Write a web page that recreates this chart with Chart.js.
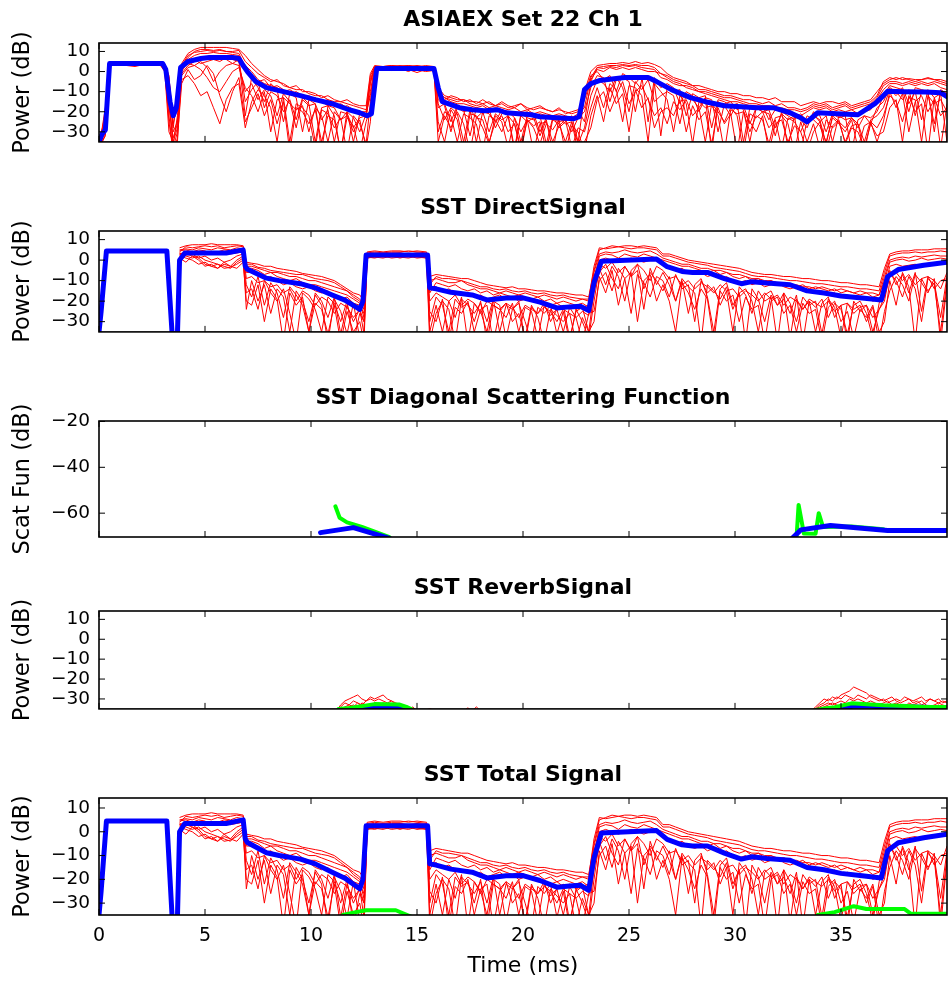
<!DOCTYPE html>
<html>
<head>
<meta charset="utf-8">
<script src="https://cdn.jsdelivr.net/npm/chart.js@4"></script>
<style>
  body { margin: 0; background: #fff; overflow: hidden; }
  canvas { position: absolute; left: 0; }
</style>
</head>
<body>
<canvas id="c1" width="948" height="154" style="top:8px"></canvas>
<canvas id="c2" width="948" height="156" style="top:196px"></canvas>
<canvas id="c3" width="948" height="181" style="top:386px"></canvas>
<canvas id="c4" width="948" height="153" style="top:576px"></canvas>
<canvas id="c5" width="948" height="223" style="top:763px"></canvas>
<script>
// tick labels
const xTicks = [0, 5, 10, 15, 20, 25, 30, 35];
const powerTicks = [-30, -20, -10, 0, 10];
const scatTicks = [-60, -40, -20];

// ---- ASIAEX measured (panel 1) ----
const tMeas = [
  0, 0.15, 0.3, 0.5, 0.9, 1.3, 1.7, 2.1, 2.5, 2.9,
  3.1, 3.3, 3.5, 3.7, 3.9, 4.2, 4.5, 4.8, 5.1, 5.4,
  5.7, 6.0, 6.3, 6.6, 6.9, 7.2, 7.5, 7.8, 8.1, 8.4,
  8.7, 9.0, 9.3, 9.6, 9.9, 10.2, 10.5, 10.8, 11.1, 11.4,
  11.7, 12.0, 12.3, 12.6, 12.8, 13.0, 13.4, 13.8, 14.2, 14.6,
  15.0, 15.4, 15.8, 16.0, 16.3, 16.6, 16.9, 17.2, 17.5, 17.8,
  18.1, 18.4, 18.7, 19.0, 19.3, 19.6, 19.9, 20.2, 20.5, 20.8,
  21.1, 21.4, 21.7, 22.0, 22.3, 22.6, 22.9, 23.2, 23.5, 23.8,
  24.1, 24.4, 24.7, 25.0, 25.3, 25.6, 25.9, 26.2, 26.5, 26.8,
  27.1, 27.4, 27.7, 28.0, 28.3, 28.6, 28.9, 29.2, 29.5, 29.8,
  30.1, 30.4, 30.7, 31.0, 31.3, 31.6, 31.9, 32.2, 32.5, 32.8,
  33.1, 33.4, 33.7, 34.0, 34.3, 34.6, 34.9, 35.2, 35.5, 35.8,
  36.1, 36.4, 36.7, 37.0, 37.3, 37.6, 37.9, 38.2, 38.5, 38.8,
  39.1, 39.4, 39.7, 40.0
];
const measRun1 = [
  -33, -29, -20,
  4.5, 4, 4.5, 4, 4.5, 4, 4.5,
  3, -8, -28, -12, 4,
  9, 11, 12, 12, 12, 12, 12, 11.5, 11,
  8, 4, 1, -2, -4, -5, -6, -8, -9, -9, -11, -12, -12, -14, -15, -15, -16, -17, -18, -19,
  -6,
  2.5, 2.5, 3, 2.5, 3, 2.5, 2.5, 2,
  -8, -12, -13, -14, -14, -15, -15, -16, -15, -17, -16, -18, -17, -16, -18, -19, -18, -19, -20, -19, -20, -21, -20,
  -10, 0,
  3, 3.5, 4, 4, 4.5, 4, 5, 4, 4.5, 3.5, 2,
  -1, -3, -4, -5, -7, -7, -8, -9, -10, -10, -11, -11, -12, -12, -13, -13, -14, -13, -15, -15, -15, -17, -16,
  -15, -16, -15, -15, -16, -15, -17, -16, -15, -14, -10,
  -6,
  -4, -3, -4, -3.5, -4, -4, -3.5, -4, -5, -6
];
const measRun2 = [
  -35, -34, -25,
  3, 3.5, 3, 2.5, 3.5, 3, 3,
  1, -25, -40, -35, 0,
  5, 6, 4, 5, 6, 5, 7, 6, 5,
  -22, -3, -8, -15, -6, -9, -25, -11, -13, -30, -14, -16, -40, -17, -18, -24, -20, -35, -21, -23,
  -5,
  1.5, 2, 1.5, 2, 1.5, 2, 1.5, 1,
  -14, -17, -30, -18, -20, -19, -35, -20, -21, -25, -19, -22, -40, -21, -23, -24, -22, -36, -23, -25, -24, -30, -23,
  -20, -8,
  -2, -3, -15, -4, -3, -5, -20, -4, -3, -6, -32,
  -8, -10, -9, -22, -11, -13, -12, -28, -14, -15, -17, -16, -35, -18, -19, -17, -24, -19, -20, -38, -22, -24, -28,
  -20, -22, -30, -21, -23, -22, -40, -24, -22, -23, -20,
  -12,
  -7, -8, -9, -20, -8, -9, -10, -30, -9, -11
];
const measRun3 = [
  -36, -33, -30,
  3.5, 4, 3.5, 4, 3, 4, 3.5,
  2, -15, -36, -22, -2,
  2, 3, 1, -3, -8, -10, -5, 0, 2,
  -8, -12, -20, -10, -30, -14, -13, -35, -16, -18, -22, -38, -19, -21, -28, -23, -40, -22, -26, -36,
  -15,
  1, 1.5, 1, 0.5, 1, -0.5, 1, 0.5,
  -25, -35, -19, -24, -40, -21, -22, -28, -36, -22, -25, -38, -23, -30, -24, -40, -26, -25, -35, -27, -24, -38, -28,
  -30, -18,
  -8, -18, -6, -9, -25, -7, -8, -12, -35, -6, -10,
  -14, -30, -12, -16, -36, -15, -18, -17, -22, -40, -19, -21, -20, -30, -22, -24, -36, -23, -22, -26, -40, -25, -35,
  -26, -38, -24, -28, -25, -35, -27, -26, -40, -25, -28,
  -22,
  -12, -15, -25, -13, -14, -35, -12, -16, -14, -20
];
const measRun4 = [
  -35, -32, -27,
  4, 3.5, 4, 3.5, 4, 3.5, 4,
  3.5, -5, -22, -20, 1,
  6, 8, 9, 9, 9.5, 9, 9, 8.5, 8,
  3, 0, -4, -6, -7, -8, -10, -9, -11, -13, -12, -14, -15, -14, -17, -16, -18, -19, -20, -20,
  -2,
  2, 2.5, 2, 2.5, 2, 2.5, 2, 1.5,
  -10, -13, -15, -16, -16, -17, -18, -17, -19, -18, -19, -20, -20, -21, -20, -22, -21, -22, -23, -22, -23, -24, -22,
  -14, -4,
  1, 0, 2, 1, 2, 1, 2, 1, 0, 0, -1,
  -3, -5, -6, -8, -9, -10, -11, -12, -13, -14, -15, -15, -16, -17, -17, -18, -18, -19, -19, -20, -21, -22, -20,
  -18, -19, -18, -20, -19, -20, -19, -21, -20, -19, -14,
  -9,
  -6, -6, -7, -6, -7, -6, -7, -6, -8, -9
];
const measRun5 = [
  -34, -31, -26,
  3, 4.5, 3, 4.5, 3.5, 4.5, 3,
  0, -30, -35, -28, -4,
  -2, -6, -12, -10, -18, -26, -14, -8, -6,
  -28, -15, -9, -12, -18, -35, -13, -16, -19, -17, -30, -18, -22, -35, -20, -24, -22, -30, -24, -38,
  -25,
  2, 1, 2, 1.5, 0, 2, 1.5, 1,
  -30, -20, -22, -35, -21, -23, -26, -40, -22, -24, -30, -22, -26, -38, -24, -27, -25, -40, -24, -26, -35, -25, -40,
  -35, -28,
  -14, -10, -20, -12, -5, -16, -10, -7, -14, -22, -18,
  -26, -15, -19, -14, -22, -18, -35, -16, -20, -25, -18, -22, -40, -21, -23, -20, -28, -24, -38, -23, -25, -30, -22,
  -24, -27, -35, -23, -26, -30, -24, -38, -27, -25, -35,
  -25,
  -10, -18, -11, -30, -15, -12, -20, -14, -38, -16
];
const measRun6 = [
  -35, -35, -32,
  5, 4, 4.5, 4, 4.5, 5, 4,
  4, -2, -30, -25, 3,
  7, 10, 11, 11, 10.5, 11, 10, 10, 10.5,
  5, 2, -1, -3, -5, -4, -7, -8, -7, -10, -10, -11, -13, -12, -14, -15, -14, -16, -17, -17,
  -1,
  3, 2.5, 3, 2.5, 3, 2, 3, 2.5,
  -12, -14, -12, -13, -15, -14, -16, -14, -16, -17, -15, -17, -18, -16, -19, -18, -17, -19, -20, -18, -21, -20, -19,
  -25, -5,
  2, 2.5, 3, 3, 3.5, 3, 3.5, 3, 3, 2, -1,
  -2, -4, -5, -6, -7, -9, -9, -10, -11, -12, -12, -13, -14, -14, -15, -16, -15, -17, -16, -18, -18, -19, -18,
  -16, -17, -16, -18, -17, -16, -18, -17, -16, -15, -12,
  -5,
  -3, -4, -3, -4, -5, -4, -3, -4, -4, -5
];
const measRun7 = [
  -36, -30, -24,
  4, 3, 4, 3, 4, 3.5, 4.5,
  2.5, -12, -38, -30, 2,
  4, 3, 5, 2, -5, 0, 3, 4, 3,
  -10, -6, -14, -9, -12, -22, -11, -15, -28, -14, -17, -16, -24, -19, -35, -20, -21, -28, -23, -22,
  -10,
  2.5, 1.5, 2.5, 2, 2.5, 1.5, 2.5, 2,
  -18, -16, -25, -17, -19, -32, -18, -21, -19, -28, -21, -20, -23, -35, -22, -21, -30, -23, -22, -28, -25, -22, -35,
  -12, -2,
  0, -4, -2, -10, -1, -3, -6, -2, -25, -3, -8,
  -6, -8, -16, -10, -12, -20, -13, -14, -30, -16, -15, -19, -17, -26, -18, -20, -21, -32, -20, -22, -24, -21, -25,
  -21, -25, -22, -35, -22, -24, -23, -28, -22, -26, -18,
  -15,
  -8, -10, -14, -9, -22, -10, -11, -26, -10, -12
];
const measRun8 = [
  -35, -33, -28,
  3.5, 4.5, 3.5, 3, 4, 4.5, 3.5,
  1.5, -18, -33, -26, -1,
  3, 5, 7, 6, 8, 7, 6, 4, 6,
  -15, -9, -5, -18, -10, -12, -20, -14, -24, -13, -16, -35, -18, -17, -22, -40, -20, -23, -30, -21,
  -12,
  1.5, 2, 2.5, 1, 2, 1.5, 2, 1.5,
  -16, -24, -18, -21, -35, -19, -23, -20, -30, -21, -24, -22, -38, -22, -25, -23, -32, -24, -40, -23, -26, -25, -36,
  -28, -12,
  -4, -6, -10, -3, -8, -20, -5, -9, -4, -15, -12,
  -10, -12, -26, -11, -14, -18, -13, -40, -15, -17, -22, -16, -19, -35, -18, -20, -19, -28, -21, -24, -22, -40, -24,
  -22, -24, -36, -22, -25, -28, -23, -26, -35, -24, -22,
  -18,
  -9, -12, -8, -16, -10, -24, -9, -13, -11, -35
];
const measRun9 = [
  -34, -28, -18,
  4, 4, 3.5, 4.5, 3.5, 4, 4,
  3, -3, -26, -16, 3,
  8, 9.5, 10, 10.5, 10, 10.5, 10, 9.5, 9,
  2, -2, -5, -4, -8, -7, -9, -11, -10, -12, -14, -13, -15, -17, -16, -18, -17, -19, -21, -22,
  -4,
  2.5, 2, 2.5, 3, 2.5, 3, 2.5, 2,
  -11, -13, -14, -15, -14, -16, -17, -16, -18, -17, -18, -19, -18, -20, -19, -21, -20, -21, -22, -21, -22, -23, -21,
  -18, -3,
  2, 1.5, 2.5, 2, 3, 2.5, 3, 2, 1.5, 1, -3,
  -4, -6, -7, -7, -8, -10, -10, -11, -12, -13, -13, -14, -15, -16, -16, -17, -17, -18, -18, -19, -19, -20, -19,
  -17, -18, -17, -19, -18, -17, -19, -18, -17, -16, -13,
  -7,
  -5, -5, -6, -5, -6, -5, -6, -5, -6, -7
];
const measRun10 = [
  -37, -35, -31,
  3, 3.5, 4.5, 3.5, 4.5, 3, 4,
  2, -22, -40, -33, -6,
  1, -4, -2, 3, -1, -12, -20, -10, -3,
  -25, -18, -11, -22, -14, -26, -15, -40, -18, -20, -26, -19, -35, -22, -24, -40, -23, -27, -40, -25,
  -18,
  0.5, 1.5, 0.5, 1.5, 0.5, 1, 0, 0.5,
  -35, -22, -28, -20, -26, -40, -23, -24, -35, -25, -22, -30, -26, -40, -24, -28, -36, -26, -29, -24, -40, -27, -30,
  -40, -22,
  -12, -25, -8, -16, -11, -30, -9, -18, -13, -28, -20,
  -18, -22, -14, -30, -17, -24, -20, -36, -18, -26, -21, -40, -20, -25, -30, -22, -40, -26, -24, -35, -27, -30, -40,
  -30, -25, -40, -27, -24, -36, -28, -30, -38, -26, -32,
  -30,
  -18, -14, -35, -12, -20, -16, -40, -13, -22, -18
];
const tMeasMean = [
  0, 0.15, 0.3, 0.5, 3.0, 3.15, 3.35, 3.5, 3.65, 3.85,
  4.2, 4.8, 5.2, 6.3, 6.6, 6.8, 7.0, 7.4, 7.9, 8.5,
  9.5, 10.2, 11.0, 11.8, 12.3, 12.65, 12.85, 13.1, 15.8, 16.0,
  16.2, 16.6, 17.0, 17.6, 18.2, 18.8, 19.2, 19.8, 20.4, 20.8,
  21.6, 22.4, 22.65, 22.9, 23.2, 23.6, 24.8, 25.9, 26.3, 27.0,
  27.9, 28.6, 29.5, 30.3, 31.0, 31.8, 32.6, 33.1, 33.4, 33.9,
  34.8, 35.8, 36.6, 36.9, 37.2, 38.0, 39.0, 39.7, 40.0
];
const measMean = [
  -35, -31, -29, 4, 4, 1, -15, -22, -18, 2,
  5, 6.5, 7, 7, 6.5, 3, 0, -5, -8, -9.5,
  -12, -14, -16, -19, -20.5, -22, -21, 1.5, 1.5, -8,
  -15, -16.5, -18, -19, -19.5, -19, -20.5, -21, -21.5, -22.5,
  -23, -23.5, -22.5, -9, -6, -4.5, -3, -3, -5, -9,
  -13, -15, -17, -17.5, -18, -18, -20.5, -23, -25, -20.5,
  -21, -21.5, -16, -13, -9.8, -10, -10.2, -10.5, -12.5
];

// ---- SST direct signal (panel 2, also under the total signal) ----
const tDirect = [
  3.8, 4.1, 4.4, 4.7, 5.0, 5.3, 5.6, 5.9, 6.2, 6.5,
  6.8, 6.95, 7.2, 7.5, 7.8, 8.1, 8.4, 8.7, 9.0, 9.3,
  9.6, 9.9, 10.2, 10.5, 10.8, 11.1, 11.4, 11.7, 12.0, 12.3,
  12.5, 12.65, 13.0, 13.4, 13.8, 14.2, 14.6, 15.0, 15.45, 15.6,
  15.9, 16.2, 16.5, 16.8, 17.1, 17.4, 17.7, 18.0, 18.3, 18.6,
  18.9, 19.2, 19.5, 19.8, 20.1, 20.4, 20.7, 21.0, 21.3, 21.6,
  21.9, 22.2, 22.5, 22.8, 23.1, 23.35, 23.6, 23.9, 24.2, 24.5,
  24.8, 25.1, 25.4, 25.7, 26.0, 26.3, 26.6, 26.9, 27.2, 27.5,
  27.8, 28.1, 28.4, 28.7, 29.0, 29.3, 29.6, 29.9, 30.2, 30.5,
  30.8, 31.1, 31.4, 31.7, 32.0, 32.3, 32.6, 32.9, 33.2, 33.5,
  33.8, 34.1, 34.4, 34.7, 35.0, 35.3, 35.6, 35.9, 36.2, 36.5,
  36.8, 37.05, 37.3, 37.6, 37.9, 38.2, 38.5, 38.8, 39.1, 39.4,
  39.7, 40.0
];
const dirRun1 = [
  6, 7, 7.5, 7.5, 7.5, 8, 7.5, 7.5, 7.5, 7.5, 7,
  -1,
  -1.5, -2, -3, -3, -4, -4.5, -5, -5.5, -6.5, -7, -7.5, -8, -9, -10, -12, -14, -16, -17,
  -20,
  4, 4.5, 4, 4.5, 4.5, 4, 4.5, 4,
  -8,
  -7, -7.5, -8, -8.5, -9, -9, -10, -11, -12, -12.5, -13, -13.5, -13, -14, -14, -14.5, -15, -15, -15.5, -16, -16, -16.5, -17, -17, -18,
  -5,
  5, 6, 7, 6.5, 7, 7, 6.5, 7, 6.5, 6,
  3, 3, 2, 1, 0, -0.5, -1, -1.5, -2, -2.5, -3, -3.5, -4, -5, -6, -6.5, -7, -7, -7.5, -8, -8, -8.5, -9, -9, -9.5, -10, -10, -10.5, -11, -11, -11.5, -12, -12, -12.5, -13,
  -4,
  3, 4, 4.5, 4.5, 5, 5, 5, 5.5, 5.5, 5.5
];
const dirRun2 = [
  3, 4, 3.5, 4, 3, 4, 3.5, 4, 3, 3.5, 4,
  -6,
  -6, -7, -9, -8, -10, -12, -11, -13, -14, -13, -15, -16, -15, -18, -19, -18, -21, -22,
  -26,
  2.5, 3, 2.5, 3, 2.5, 3, 2.5, 2,
  -14,
  -13, -15, -14, -16, -17, -16, -18, -17, -19, -18, -17, -19, -18, -20, -19, -19, -20, -21, -22, -21, -23, -22, -24, -23, -22,
  -8,
  0, 1, 0, -1, 0, 1, 0, -1, 0, 1,
  -2, -3, -5, -4, -6, -7, -6, -8, -7, -9, -8, -10, -11, -10, -12, -11, -13, -12, -11, -13, -14, -13, -15, -14, -16, -15, -17, -16, -18, -17, -18, -19, -18, -20, -19,
  -14,
  -3, -2, -3, -2.5, -2, -3, -2, -1.5, -2, -1
];
const dirRun3 = [
  2, 1, 0, -2, -1, -3, -4, -2, -3, 0, 2,
  -24,
  -10, -20, -12, -26, -14, -18, -35, -15, -20, -30, -17, -22, -40, -19, -25, -36, -21, -38,
  -35,
  1, 2, 1.5, 2, 1, 2, 1.5, 1,
  -35,
  -22, -35, -20, -28, -18, -40, -21, -25, -35, -20, -22, -38, -24, -21, -30, -40, -23, -26, -22, -36, -25, -40, -24, -30, -38,
  -20,
  -4, -12, -3, -8, -20, -5, -2, -14, -6, -10,
  -15, -8, -20, -10, -26, -12, -9, -18, -35, -14, -11, -22, -16, -40, -14, -19, -30, -17, -22, -16, -38, -19, -24, -20, -35, -21, -18, -28, -22, -40, -20, -25, -22, -35, -24,
  -20,
  -6, -10, -18, -8, -14, -30, -9, -12, -35, -10
];
const dirRun4 = [
  5, 5.5, 5, 6, 5.5, 5, 6, 5.5, 5, 6, 5.5,
  -3,
  -3, -4, -5, -6, -6, -7, -8, -8, -9, -10, -10, -11, -12, -13, -14, -15, -17, -19,
  -22,
  3, 3.5, 3, 3.5, 3.5, 3, 3.5, 3,
  -10,
  -9, -10, -11, -11, -10, -12, -13, -14, -14, -15, -16, -15, -16, -17, -16, -17, -18, -17, -18, -19, -18, -19, -20, -19, -20,
  -6,
  3, 4, 3.5, 4, 5, 4, 3.5, 4, 4.5, 3,
  1, 0, -1, -2, -2, -3, -4, -4, -5, -5, -6, -7, -7, -8, -9, -9, -10, -10, -11, -11, -12, -12, -13, -13, -14, -13, -14, -15, -14, -15, -16, -15, -16, -16, -17,
  -8,
  0, 1, 1.5, 1, 2, 1.5, 2, 2.5, 2, 2
];
const dirRun5 = [
  3, 2, 1, 2, 0, -1, -2, -3, -4, -1, 1,
  -12,
  -18, -8, -22, -11, -16, -28, -13, -17, -22, -35, -16, -20, -28, -18, -36, -22, -30, -24,
  -36,
  1.5, 1, 2, 1, 1.5, 2, 1, 1.5,
  -30,
  -18, -22, -35, -19, -23, -21, -30, -20, -40, -22, -24, -28, -21, -35, -23, -25, -38, -22, -27, -24, -35, -23, -28, -40, -26,
  -25,
  -10, -6, -15, -4, -9, -26, -7, -11, -18, -8,
  -10, -18, -7, -14, -12, -30, -10, -16, -13, -22, -15, -35, -13, -17, -26, -15, -20, -18, -40, -16, -21, -30, -18, -22, -20, -36, -19, -23, -38, -21, -24, -22, -30, -23, -40,
  -25,
  -15, -8, -12, -20, -7, -11, -16, -9, -40, -12
];
const dirRun6 = [
  4, 6.5, 6, 6.5, 7, 6.5, 7, 6, 6.5, 7, 6.5,
  -2,
  -2, -3.5, -4, -5, -5.5, -6, -6.5, -7, -7, -8, -9, -9.5, -10, -11, -13, -15, -18, -20,
  -24,
  3.5, 4, 3.5, 4, 4, 4.5, 4, 3.5,
  -12,
  -8, -9, -9, -9.5, -10, -11, -12, -13, -13, -14, -14.5, -14, -15, -15.5, -15, -16, -16.5, -16, -17, -17.5, -17, -18, -18.5, -19, -19,
  -3,
  6, 5.5, 6, 6.5, 6, 5.5, 6, 6, 5.5, 5,
  2, 2, 1, 0, -1, -1.5, -2, -2.5, -3.5, -4, -4.5, -5, -5.5, -6.5, -7.5, -8, -8, -8.5, -9, -9.5, -10, -10, -10.5, -11, -11.5, -11.5, -12, -12.5, -13, -13, -13.5, -14, -14, -14.5, -15,
  -6,
  2, 3, 3.5, 3.5, 4, 3.5, 4, 4, 4.5, 4
];
const dirRun7 = [
  2.5, 3, 2, 1, -2, -3, -2, -4, -3.5, -2, 0,
  -16,
  -14, -24, -10, -16, -20, -14, -26, -40, -16, -19, -24, -35, -18, -21, -30, -20, -40, -26,
  -30,
  2, 1.5, 2.5, 1.5, 2, 1.5, 2, 1,
  -40,
  -26, -20, -24, -40, -19, -22, -26, -21, -30, -19, -35, -22, -24, -20, -40, -23, -26, -21, -30, -24, -22, -38, -25, -23, -35,
  -15,
  -6, -2, -9, -14, -3, -8, -5, -24, -4, -12,
  -6, -12, -20, -9, -13, -16, -40, -12, -15, -19, -13, -24, -16, -14, -20, -35, -17, -15, -22, -19, -26, -17, -40, -20, -23, -19, -28, -21, -24, -36, -22, -20, -26, -38, -21,
  -12,
  -5, -12, -7, -16, -6, -25, -8, -10, -14, -6
];
const dirRun8 = [
  4.5, 5, 4, 5, 4.5, 3, 4, 5, 4.5, 4, 5,
  -4,
  -4, -5, -7, -6, -8, -9, -10, -9, -11, -12, -12, -13, -14, -15, -16, -17, -19, -21,
  -28,
  3, 2.5, 3.5, 3, 3.5, 2.5, 3, 2.5,
  -16,
  -11, -12, -13, -12, -14, -15, -14, -16, -15, -17, -16, -17, -18, -17, -18, -19, -18, -20, -19, -21, -20, -21, -22, -21, -23,
  -10,
  2, 3, 2.5, 1, 3, 2, 1.5, 3, 2, 1,
  0, -1, -2, -3, -3, -4, -5, -6, -5, -7, -6, -8, -9, -8, -10, -9, -11, -10, -12, -11, -12, -13, -12, -14, -13, -14, -15, -14, -16, -15, -16, -17, -16, -18, -17,
  -10,
  -1, 0, 0.5, -0.5, 0, 1, 0, 0.5, 1, 0.5
];
const dirRun9 = [
  1, -1, 2, 0, -3, -2, -4, -1, -3, -4, -1,
  -20,
  -22, -12, -30, -14, -19, -40, -16, -22, -18, -35, -21, -24, -36, -22, -40, -25, -35, -30,
  -40,
  1, 1.5, 1, 2, 1.5, 1, 2, 1.5,
  -25,
  -30, -19, -40, -23, -26, -20, -35, -24, -22, -40, -25, -21, -30, -26, -38, -22, -28, -40, -24, -27, -30, -26, -40, -28, -35,
  -30,
  -8, -16, -5, -22, -9, -6, -30, -10, -7, -20,
  -12, -20, -35, -11, -16, -24, -14, -19, -40, -15, -20, -17, -30, -18, -24, -22, -40, -20, -18, -26, -22, -35, -21, -26, -24, -40, -23, -20, -30, -25, -38, -24, -28, -22, -35,
  -30,
  -10, -22, -6, -13, -40, -9, -15, -11, -28, -8
];
const dirRun10 = [
  3.5, 2.5, 3, 1, 2, 0, 1, -1, 0, 2, 3,
  -9,
  -8, -11, -10, -13, -12, -16, -14, -20, -15, -17, -22, -18, -20, -26, -21, -23, -28, -24,
  -30,
  2, 2.5, 2, 2.5, 3, 2, 2.5, 2,
  -20,
  -16, -18, -20, -17, -22, -19, -21, -26, -20, -22, -24, -21, -23, -28, -22, -24, -26, -23, -25, -30, -24, -26, -28, -25, -27,
  -12,
  -2, -4, -1, -6, -3, -8, -2, -5, -10, -3,
  -5, -9, -8, -12, -10, -14, -11, -13, -16, -12, -15, -14, -18, -15, -17, -20, -16, -19, -17, -22, -18, -20, -24, -19, -21, -23, -20, -25, -22, -21, -26, -23, -22, -28, -24,
  -18,
  -8, -6, -10, -7, -12, -9, -8, -14, -10, -9
];
const tDirectMean = [
  0, 0.1, 0.35, 3.2, 3.45, 3.7, 3.8, 4.05, 6.0, 6.8,
  6.9, 7.0, 7.9, 8.5, 9.5, 10.2, 11.0, 11.6, 12.3, 12.45,
  12.6, 15.5, 15.6, 15.9, 16.6, 17.6, 18.3, 19.2, 20.0, 20.8,
  21.6, 22.2, 22.7, 23.1, 23.35, 23.7, 26.3, 26.8, 27.5, 28.0,
  28.7, 29.5, 30.3, 30.8, 31.5, 32.6, 33.4, 34.2, 35.0, 36.0,
  36.9, 37.2, 37.7, 38.9, 40.0
];
const directMean = [
  -35, -25, 4.5, 4.5, -36, -36, 0, 3.5, 3.5, 5,
  -3, -4.5, -8.8, -10, -11.5, -13.5, -17, -19.5, -24, -20,
  2.5, 2.5, -13.5, -14, -15.7, -17, -19.4, -18.5, -18.4, -20.5,
  -23.3, -22.8, -22.5, -24.6, -11, -0.5, 0.5, -3.2, -5.5, -6,
  -6, -9, -11.5, -10.5, -11.2, -12, -15, -16, -17.5, -18.5,
  -19.4, -8, -4.6, -2.5, -1
];

// ---- SST diagonal scattering function (panel 3), null = gap ----
const tScatMean = [10.45, 12.0, 13.7, 24, 32.7, 33.1, 34.5, 37.2, 40.0];
const scatMean = [-68.5, -66.3, -71, null, -71, -67.3, -65.4, -67.6, -67.6];
const tScatGreen = [11.15, 11.35, 11.7, 12.4, 13.7, 24, 32.9, 33.0, 33.25, 33.8, 33.95, 34.15, 35.5, 37.0];
const scatGreen = [-57, -62, -64, -66, -70.5, null, -71, -56.4, -68.9, -69, -60, -66, -65.8, -67];

// ---- SST reverb signal (panel 4) ----
const tRevA = [11.2, 11.4, 11.6, 11.8, 12.0, 12.2, 12.4, 12.6, 12.8, 13.0, 13.2, 13.4, 13.6, 13.8, 14.0, 14.2, 14.4, 14.6, 14.8, 15.0];
const revA1 = [-36, -33, -31, -30, -29, -28, -30, -31, -29, -30, -29, -28, -30, -31, -32, -33, -34, -35, -36, -36];
const revA2 = [-36, -34, -32, -33, -31, -32, -33, -31, -30, -31, -30, -31, -32, -31, -33, -34, -35, -34, -35, -37];
const revA3 = [-37, -35, -34, -33, -34, -32, -34, -35, -33, -32, -33, -32, -33, -34, -35, -36, -35, -36, -34, -36];
const revA4 = [-37, -36, -35, -34, -33, -35, -32, -33, -34, -33, -32, -34, -33, -35, -34, -35, -36, -35, -36, -37];
const tRevTail = [15.2, 15.6, 16.0, 16.4, 16.8, 17.2, 17.4, 17.6, 17.8, 18.0];
const revTail = [-36, -35, -36, -35.5, -36, -36, -34.5, -36, -34, -36];
const tRevB = [
  33.6, 33.8, 34.0, 34.2, 34.4, 34.6, 34.8, 35.0, 35.2, 35.4,
  35.6, 35.8, 36.0, 36.2, 36.4, 36.6, 36.8, 37.0, 37.2, 37.4,
  37.6, 37.8, 38.0, 38.2, 38.4, 38.6, 38.8, 39.0, 39.2, 39.4,
  39.6, 39.8, 40.0
];
const revB1 = [-36, -34, -32, -30, -31, -29, -30, -28, -27, -26, -24, -25, -26, -27, -29, -30, -31, -30, -32, -31, -30, -31, -29, -30, -31, -30, -29, -31, -30, -31, -32, -31, -32];
const revB2 = [-37, -35, -33, -32, -30, -31, -29, -30, -28, -29, -30, -28, -29, -30, -28, -29, -30, -31, -30, -29, -31, -32, -31, -30, -32, -31, -33, -32, -30, -31, -30, -32, -31];
const revB3 = [-36, -35, -34, -33, -32, -33, -32, -31, -32, -30, -31, -30, -31, -32, -31, -32, -33, -32, -31, -33, -32, -33, -34, -32, -33, -32, -31, -33, -34, -33, -32, -33, -34];
const revB4 = [-37, -36, -35, -34, -33, -32, -33, -34, -33, -32, -33, -34, -32, -33, -34, -33, -35, -34, -33, -34, -35, -34, -33, -35, -34, -35, -34, -33, -35, -34, -33, -35, -34];
const tRevMean = [11.3, 11.9, 12.2, 12.8, 13.6, 14.2, 14.6, 24, 34.0, 35.0, 35.6, 36.4, 37.2, 38.5, 40.0];
const revMean = [-36, -35.5, -34.5, -34, -34, -35, -36, null, -36, -35, -33.5, -33.5, -34.5, -34, -34.5];
const tRevGreen = [11.3, 11.8, 12.4, 13.0, 14.15, 14.5, 14.8, 24, 33.8, 34.2, 34.7, 35.5, 36.4, 37.0, 38.1, 39.0, 40.0];
const revGreen = [-35, -34.5, -33.6, -32.6, -32.8, -34, -35.5, null, -35.5, -34.8, -34.1, -32.2, -32.8, -33.2, -33.6, -34, -34];

// ---- SST total signal (panel 5): direct traces plus reverb level ----
const tTotalGreen = [11.5, 12.0, 12.6, 14.0, 14.4, 14.8, 24, 33.9, 34.7, 35.6, 36.2, 38.0, 38.3, 40.0];
const totalGreen = [-35, -34, -33, -33, -34.5, -36, null, -35, -33.8, -31.3, -32.5, -32.5, -34.5, -34.5];

const RED = '#ff0000', BLUE = '#0000ff', GREEN = '#00ff00';

function pts(ts, vs) {
  return ts.map((t, i) => ({x: t, y: vs[i]}));
}
function reds(ts, runs) {
  return runs.map(r => ({data: pts(ts, r), borderColor: RED, borderWidth: 1, order: 3}));
}
function thick(ts, vs, color, width, order) {
  return {data: pts(ts, vs), borderColor: color, borderWidth: width, order: order,
          borderCapStyle: 'round', borderJoinStyle: 'round'};
}
const minus = v => String(v).replace('-', '\u2212');

// box round the plot with inward ticks on all four sides
const boxTicks = {
  id: 'boxTicks',
  afterDatasetsDraw(chart) {
    const {ctx, chartArea: a, scales: {x, y}} = chart;
    ctx.save();
    ctx.strokeStyle = '#000';
    ctx.lineWidth = 1;
    ctx.beginPath();
    x.ticks.forEach(t => {
      const px = x.getPixelForValue(t.value);
      ctx.moveTo(px, a.bottom); ctx.lineTo(px, a.bottom - 6);
      ctx.moveTo(px, a.top); ctx.lineTo(px, a.top + 6);
    });
    y.ticks.forEach(t => {
      const py = y.getPixelForValue(t.value);
      ctx.moveTo(a.left, py); ctx.lineTo(a.left + 6, py);
      ctx.moveTo(a.right, py); ctx.lineTo(a.right - 6, py);
    });
    ctx.stroke();
    ctx.lineWidth = 1.6;
    ctx.strokeRect(a.left, a.top, a.right - a.left, a.bottom - a.top);
    ctx.restore();
  }
};

Chart.defaults.font.family = "'DejaVu Sans', sans-serif";
Chart.defaults.color = '#000';

function panel(id, o) {
  return new Chart(document.getElementById(id), {
    type: 'line',
    data: {datasets: o.datasets},
    options: {
      responsive: false,
      animation: false,
      devicePixelRatio: 1,
      layout: {padding: {left: 0, right: 1, top: 0, bottom: 0}},
      elements: {point: {radius: 0}, line: {tension: 0}},
      plugins: {
        legend: {display: false},
        tooltip: {enabled: false},
        title: {display: true, text: o.title, fullSize: false,
                font: {size: 22, weight: 'bold', lineHeight: '25px'},
                padding: {top: 0, bottom: 10}}
      },
      scales: {
        x: {
          type: 'linear', min: 0, max: 40,
          grid: {display: false, drawTicks: false}, border: {display: false},
          afterBuildTicks: s => { s.ticks = xTicks.map(v => ({value: v})); },
          afterFit: s => { s.height = o.xHeight; },
          ticks: {display: !!o.xLabels, autoSkip: false, maxRotation: 0, font: {size: 19}, padding: 10},
          title: {display: !!o.xLabels, text: 'Time (ms)', font: {size: 22}, padding: {top: 0, bottom: 7}}
        },
        y: {
          min: o.ymin, max: o.ymax,
          grid: {display: false, drawTicks: false}, border: {display: false},
          afterBuildTicks: s => { s.ticks = o.yTicks.map(v => ({value: v})); },
          afterFit: s => { s.width = 99; },
          ticks: {autoSkip: false, font: {size: 18.5}, padding: 9, callback: minus},
          title: {display: true, text: o.yTitle, font: {size: 22.5}, padding: {top: 10, bottom: 0}}
        }
      }
    },
    plugins: [boxTicks]
  });
}

const measRuns = [measRun1, measRun2, measRun3, measRun4, measRun5, measRun6, measRun7, measRun8, measRun9, measRun10];
const dirRuns = [dirRun1, dirRun2, dirRun3, dirRun4, dirRun5, dirRun6, dirRun7, dirRun8, dirRun9, dirRun10];

panel('c1', {
  title: 'ASIAEX Set 22 Ch 1', yTitle: 'Power (dB)', ymin: -35, ymax: 14.2, yTicks: powerTicks, xHeight: 4,
  datasets: [thick(tMeasMean, measMean, BLUE, 5, 0), ...reds(tMeas, measRuns)]
});
panel('c2', {
  title: 'SST DirectSignal', yTitle: 'Power (dB)', ymin: -35, ymax: 14.2, yTicks: powerTicks, xHeight: 4,
  datasets: [thick(tDirectMean, directMean, BLUE, 5, 0), ...reds(tDirect, dirRuns)]
});
panel('c3', {
  title: 'SST Diagonal Scattering Function', yTitle: 'Scat Fun (dB)', ymin: -70.4, ymax: -19.8, yTicks: scatTicks, xHeight: 30,
  datasets: [thick(tScatMean, scatMean, BLUE, 5, 0), thick(tScatGreen, scatGreen, GREEN, 4, 1)]
});
panel('c4', {
  title: 'SST ReverbSignal', yTitle: 'Power (dB)', ymin: -35, ymax: 14.2, yTicks: powerTicks, xHeight: 4,
  datasets: [
    thick(tRevGreen, revGreen, GREEN, 4, 0),
    thick(tRevMean, revMean, BLUE, 5, 1),
    ...reds(tRevA, [revA1, revA2, revA3, revA4]),
    ...reds(tRevTail, [revTail]),
    ...reds(tRevB, [revB1, revB2, revB3, revB4])
  ]
});
panel('c5', {
  title: 'SST Total Signal', yTitle: 'Power (dB)', ymin: -35, ymax: 14.2, yTicks: powerTicks, xHeight: 71, xLabels: true,
  datasets: [
    thick(tTotalGreen, totalGreen, GREEN, 4, 0),
    thick(tDirectMean, directMean, BLUE, 5, 1),
    ...reds(tDirect, dirRuns)
  ]
});
</script>
</body>
</html>
